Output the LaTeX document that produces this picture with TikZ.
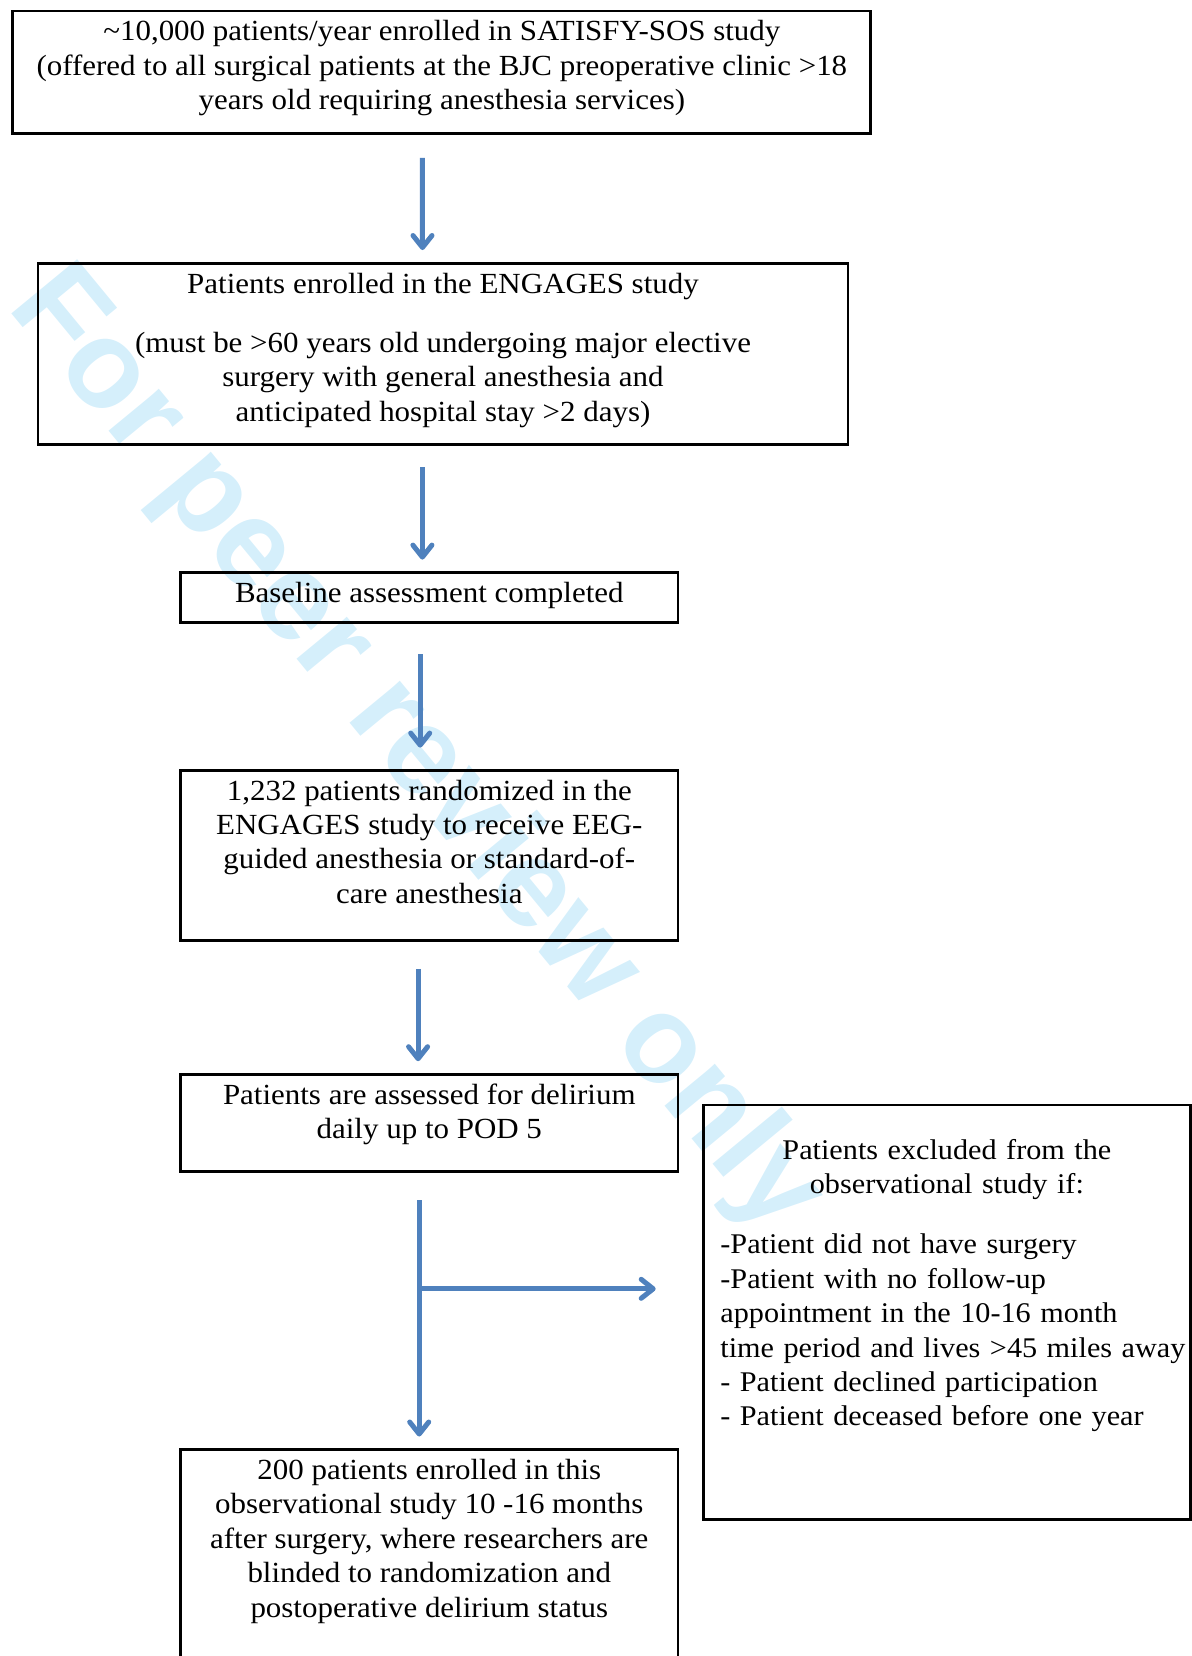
\documentclass[tikz,border=0pt]{standalone}
\usepackage{fontspec}
\setmainfont{Liberation Serif}[FakeStretch=1.06]
\newfontfamily\wmfont{Liberation Sans}
\usetikzlibrary{arrows.meta,calc}

\definecolor{flowblue}{RGB}{79,129,189}
\definecolor{wmblue}{RGB}{213,239,251}
\newcommand{\boxfont}{\fontsize{14.6}{17.2}\selectfont}
\newcommand{\exclfont}{\fontsize{14.25}{17.2}\selectfont}
\newcommand{\topstrut}[1][12.04pt]{\rule{0pt}{#1}}
\newcommand{\botstrut}[1]{\rule[-#1]{0pt}{0pt}}

\tikzset{
	stage/.style={draw, line width=1.4pt, font=\boxfont, align=center, anchor=north, inner xsep=4pt, inner ysep=3pt},
	flow/.style={draw=flowblue, line width=2.5pt, -{Straight Barb[length=6pt,width=9.5pt,round]}},
	wmark/.style={text=wmblue, font=\wmfont\bfseries\fontsize{62}{62}\selectfont}
}

\begin{document}
\begin{tikzpicture}[x=0.5pt,y=-0.5pt]
	\useasboundingbox (0,0) rectangle (1191,1656);
	\node[wmark, rotate=-50.5] (wm) at (415,752) {For peer review only};

	\node[stage, minimum width=429pt] (enrol) at (441.85,9.5) {\topstrut\textasciitilde10,000 patients/year enrolled in SATISFY-SOS study\\(offered to all surgical patients at the BJC preoperative clinic >18\\years old requiring anesthesia services)\botstrut{8.8pt}};
	\node[stage, minimum width=405pt] (engage) at (443,262) {\topstrut Patients enrolled in the ENGAGES study\\[12.3pt](must be >60 years old undergoing major elective\\surgery with general anesthesia and\\anticipated hospital stay >2 days)\botstrut{8.8pt}};
	\node[stage, minimum width=248.7pt] (base) at (429.3,571) {\topstrut Baseline assessment completed\botstrut{6.96pt}};
	\node[stage, minimum width=248.7pt] (rand) at (429.3,768.7) {\topstrut 1,232 patients randomized in the\\ENGAGES study to receive EEG-\\guided anesthesia or standard-of-\\care anesthesia\botstrut{15.36pt}};
	\node[stage, minimum width=248.7pt] (delir) at (429.3,1073) {\topstrut Patients are assessed for delirium\\daily up to POD 5\botstrut{13.26pt}};
	\node[stage, minimum width=248.7pt] (final) at (429.3,1448) {\topstrut 200 patients enrolled in this\\observational study 10 -16 months\\after surgery, where researchers are\\blinded to randomization and\\postoperative delirium status\botstrut{40pt}};
	\node[stage, anchor=north west, align=left, font=\exclfont, text width=226.5pt, inner xsep=8.5pt] (excl) at (702,1103.5) {{\centering\topstrut[24.25pt]Patients excluded from the\\observational study if:\par}\vspace{12.8pt}-Patient did not have surgery\\-Patient with no follow-up\\appointment in the 10-16 month\\\mbox{time period and lives >45 miles away}\\- Patient declined participation\\- Patient deceased before one year\botstrut{44pt}};

	\foreach \src/\dst/\xa/\ya/\xb/\yb in {enrol/engage/-9.7/-11.5/-10.25/6, engage/base/-10.3/-10.55/-3.45/5.7, base/rand/-4.55/-15.25/-4.55/10.55, rand/delir/-5.6/-13.65/-5.6/5.9}{
		\draw[flow] ([xshift=\xa pt,yshift=\ya pt]\src.south) -- ([xshift=\xb pt,yshift=\yb pt]\dst.north);
	}
	\coordinate (split) at ($(delir.south)+(-5.05pt,-58pt)$);
	\draw[flow] ([xshift=-5.05pt,yshift=-13.75pt]delir.south) -- ([xshift=-5.05pt,yshift=5.75pt]final.north);
	\draw[flow] (split) -- ($(split -| excl.west)+(-23.15pt,0)$);
\end{tikzpicture}
\end{document}
